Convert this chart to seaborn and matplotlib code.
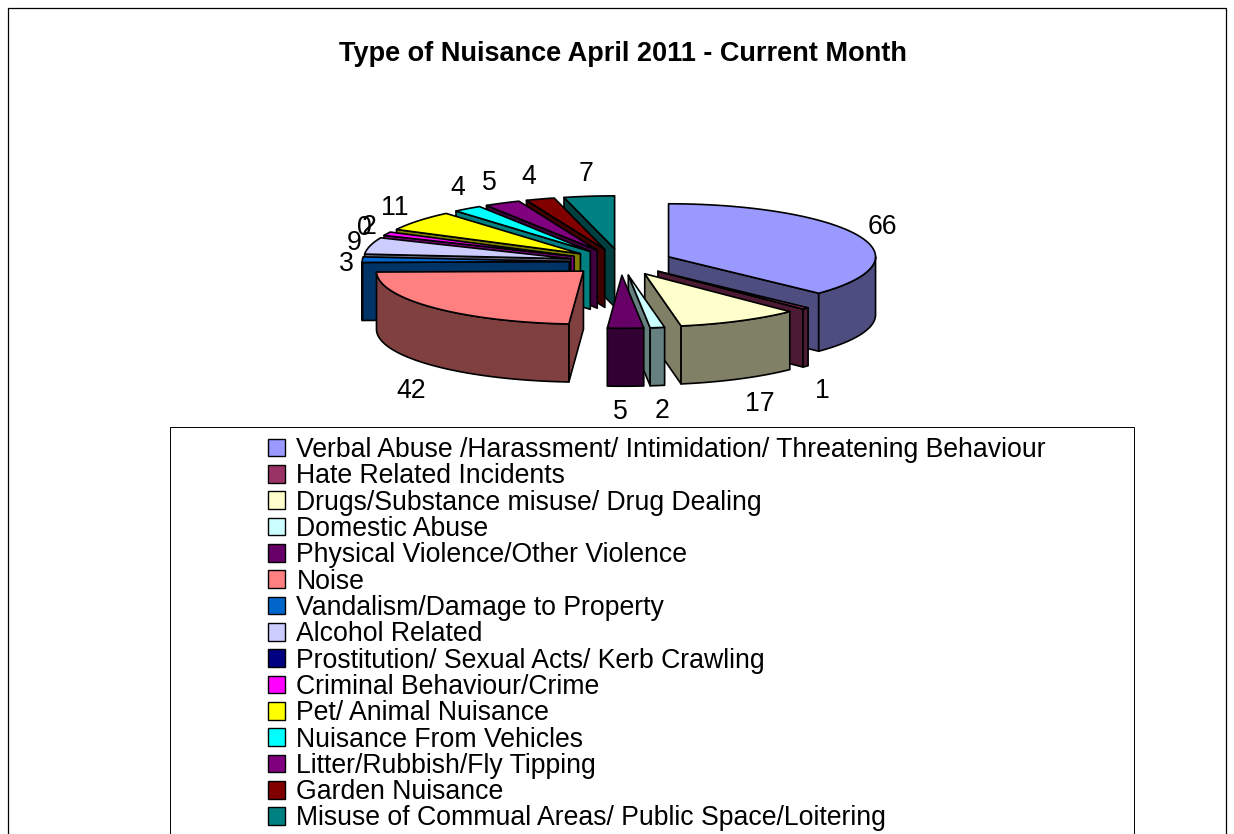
import numpy as np
import matplotlib
matplotlib.use("Agg")
import matplotlib.pyplot as plt
from matplotlib.patches import Patch, Polygon, Rectangle
import seaborn as sns

# ---- data ----
categories = [
    'Verbal Abuse /Harassment/ Intimidation/ Threatening Behaviour',
    'Hate Related Incidents',
    'Drugs/Substance misuse/ Drug Dealing',
    'Domestic Abuse',
    'Physical Violence/Other Violence',
    'Noise',
    'Vandalism/Damage to Property',
    'Alcohol Related',
    'Prostitution/ Sexual Acts/ Kerb Crawling',
    'Criminal Behaviour/Crime',
    'Pet/ Animal Nuisance',
    'Nuisance From Vehicles',
    'Litter/Rubbish/Fly Tipping',
    'Garden Nuisance',
    'Misuse of Commual Areas/ Public Space/Loitering',
]
values = [66, 1, 17, 2, 5, 42, 3, 9, 0, 2, 11, 4, 5, 4, 7]
colors = ['#9999FF', '#993366', '#FFFFCC', '#CCFFFF', '#660066',
          '#FF8080', '#0066CC', '#CCCCFF', '#000080', '#FF00FF',
          '#FFFF00', '#00FFFF', '#800080', '#800000', '#008080']
title = 'Type of Nuisance April 2011 - Current Month'

# small hand adjustments of the value labels, in pixels
nudge_x = [3, 1, 10, 2, -6, -6, 6, 5, 1, 2, -6, 3, -3, -5, 0]
nudge_y = [-2, 3, -1, -3, -3, 5, 2, 1, -1, 1, 0, -3, 0, 0, 1]

sns.set_theme(style="white")
plt.rcParams['font.family'] = ['Liberation Sans', 'DejaVu Sans']
palette = sns.color_palette(colors)

fig = plt.figure(figsize=(12.34, 8.34), dpi=100)
ax = fig.add_axes([0, 0, 1, 1])
ax.set_xlim(0, 1234)
ax.set_ylim(834, 0)
ax.axis('off')

# pie geometry in pixels
cx, cy = 621, 262
rx, ry = 207, 53
depth = 58
explode = 0.25
lw = 1.2


def rim(apex, deg):
    a = np.radians(deg)
    return apex[0] + rx * np.sin(a), apex[1] - ry * np.cos(a)


def poly(pts, fc, z):
    ax.add_patch(Polygon(pts, closed=True, facecolor=fc, edgecolor='black',
                         linewidth=lw, joinstyle='round', zorder=z))


def shade(c):
    return tuple(v * 0.5 for v in c)


bounds = np.cumsum([0] + values) / sum(values) * 360
slices = []
for i, v in enumerate(values):
    mid = (bounds[i] + bounds[i + 1]) / 2
    slices.append((min(mid, 360 - mid), i))

z = 2
for _, i in sorted(slices):
    if values[i] == 0:
        continue
    a0, a1 = bounds[i], bounds[i + 1]
    mid = (a0 + a1) / 2
    apex = (cx + explode * rx * np.sin(np.radians(mid)),
            cy - explode * ry * np.cos(np.radians(mid)))
    side = shade(palette[i])
    top_arc = [rim(apex, a) for a in np.linspace(a0, a1, 60)]

    # cut faces that look towards the viewer
    for a, visible in ((a0, np.sin(np.radians(a0)) < 0), (a1, np.sin(np.radians(a1)) > 0)):
        if visible:
            p = rim(apex, a)
            poly([apex, p, (p[0], p[1] + depth), (apex[0], apex[1] + depth)], side, z)
            z += 1
    # outer wall
    w0, w1 = max(a0, 90), min(a1, 270)
    if w1 > w0:
        arc = [rim(apex, a) for a in np.linspace(w0, w1, 60)]
        poly(arc + [(x, y + depth) for x, y in arc[::-1]], side, z)
        z += 1
    poly([apex] + top_arc, palette[i], z)
    z += 1

# value labels outside the rim
for i, v in enumerate(values):
    mid = (bounds[i] + bounds[i + 1]) / 2
    a = np.radians(mid)
    apex = (cx + explode * rx * np.sin(a), cy - explode * ry * np.cos(a))
    x, y = rim(apex, mid)
    if 90 < mid < 270:
        y += depth
    ax.text(x + 22 * np.sin(a) + nudge_x[i], y - 26 * np.cos(a) + 3 + nudge_y[i], str(v),
            fontsize=19.15, ha='center', va='center', color='black', zorder=200)

ax.text(623, 54, title, fontsize=19.5, fontweight='bold', ha='center', va='center', color='black')

# outer border and legend box run off the bottom of the page
ax.add_patch(Rectangle((8, 8), 1218, 900, fill=False, edgecolor='black', linewidth=0.9, zorder=1))
ax.add_patch(Rectangle((170, 427), 964, 500, facecolor='white', edgecolor='black', linewidth=0.7, zorder=300))

handles = [Patch(facecolor=c, edgecolor='black', linewidth=1.0) for c in palette]
leg = ax.legend(handles, categories, loc='upper left', bbox_to_anchor=(268, 437),
                bbox_transform=ax.transData, frameon=False, fontsize=19.15,
                labelspacing=0.012, handlelength=0.64, handleheight=0.64,
                handletextpad=0.43, borderpad=0, borderaxespad=0, labelcolor='black')
leg.set_zorder(301)

fig.savefig('out.png', dpi=100, facecolor='white')
